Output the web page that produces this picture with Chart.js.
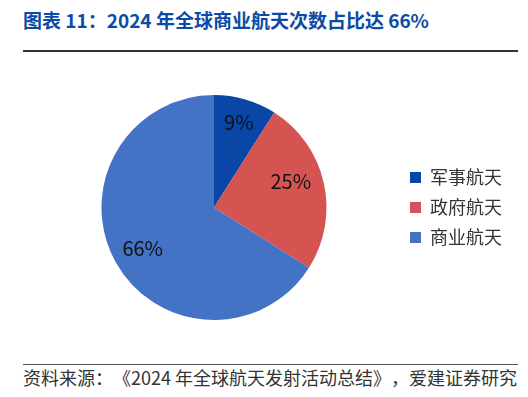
<!DOCTYPE html>
<html><head><meta charset="utf-8">
<script src="https://cdn.jsdelivr.net/npm/chart.js@4/dist/chart.umd.min.js"></script>
<style>
html,body{margin:0;padding:0;background:#fff;width:528px;height:397px;overflow:hidden;font-family:"Noto Sans CJK SC","Noto Sans",sans-serif;text-spacing-trim:space-all;}
#title{position:absolute;left:23px;top:6px;font-size:19px;font-weight:bold;color:#0B4BA6;white-space:nowrap;line-height:28px;}
#l1{position:absolute;left:23px;top:50px;width:495px;height:2px;background:#333;}
#l2{position:absolute;left:23px;top:364px;width:495px;height:1px;background:#555;}
#src{position:absolute;left:23px;top:364px;font-size:18px;color:#333;white-space:nowrap;line-height:26px;}
#wrap{position:absolute;left:0;top:60px;width:528px;height:295px;}
</style></head>
<body>
<div id="title">图表 11：2024 年全球商业航天次数占比达 66%</div>
<div id="l1"></div>
<div id="wrap"><canvas id="c" width="528" height="295"></canvas></div>
<div id="l2"></div>
<div id="src">资料来源：《2024 年全球航天发射活动总结》，爱建证券研究</div>
<script>
const categories = ["军事航天", "政府航天", "商业航天"];
const shares = [9, 25, 66];
const colors = ["#0946A5", "#D55451", "#4472C4"];

const labelPlugin = {
  id: 'sliceLabels',
  afterDatasetsDraw(chart) {
    const ctx = chart.ctx;
    const meta = chart.getDatasetMeta(0);
    const radial = [0.79, 0.72, 0.73];
    const nudge = [0, -6, -1];
    ctx.save();
    ctx.font = '20px "Noto Sans CJK SC", "Noto Sans", sans-serif';
    ctx.fillStyle = '#111';
    ctx.textAlign = 'center';
    ctx.textBaseline = 'middle';
    meta.data.forEach((arc, i) => {
      const p = arc.getProps(['x','y','startAngle','endAngle','outerRadius'], true);
      const mid = (p.startAngle + p.endAngle) / 2 + nudge[i] * Math.PI / 180;
      const x = p.x + Math.cos(mid) * p.outerRadius * radial[i];
      const y = p.y + Math.sin(mid) * p.outerRadius * radial[i];
      ctx.fillText(shares[i] + '%', x, y);
    });
    ctx.restore();
  }
};

new Chart(document.getElementById('c'), {
  type: 'pie',
  data: {
    labels: categories,
    datasets: [{ data: shares, backgroundColor: colors, borderWidth: 0 }]
  },
  options: {
    responsive: false,
    animation: false,
    layout: { padding: { top: 35, bottom: 35, left: 30, right: 16 } },
    plugins: {
      tooltip: { enabled: false },
      legend: {
        position: 'right',
        labels: {
          boxWidth: 11, boxHeight: 11, padding: 12,
          color: '#333',
          font: { size: 18, family: '"Noto Sans CJK SC", "Noto Sans", sans-serif' }
        }
      }
    }
  },
  plugins: [labelPlugin]
});
</script>
</body></html>
